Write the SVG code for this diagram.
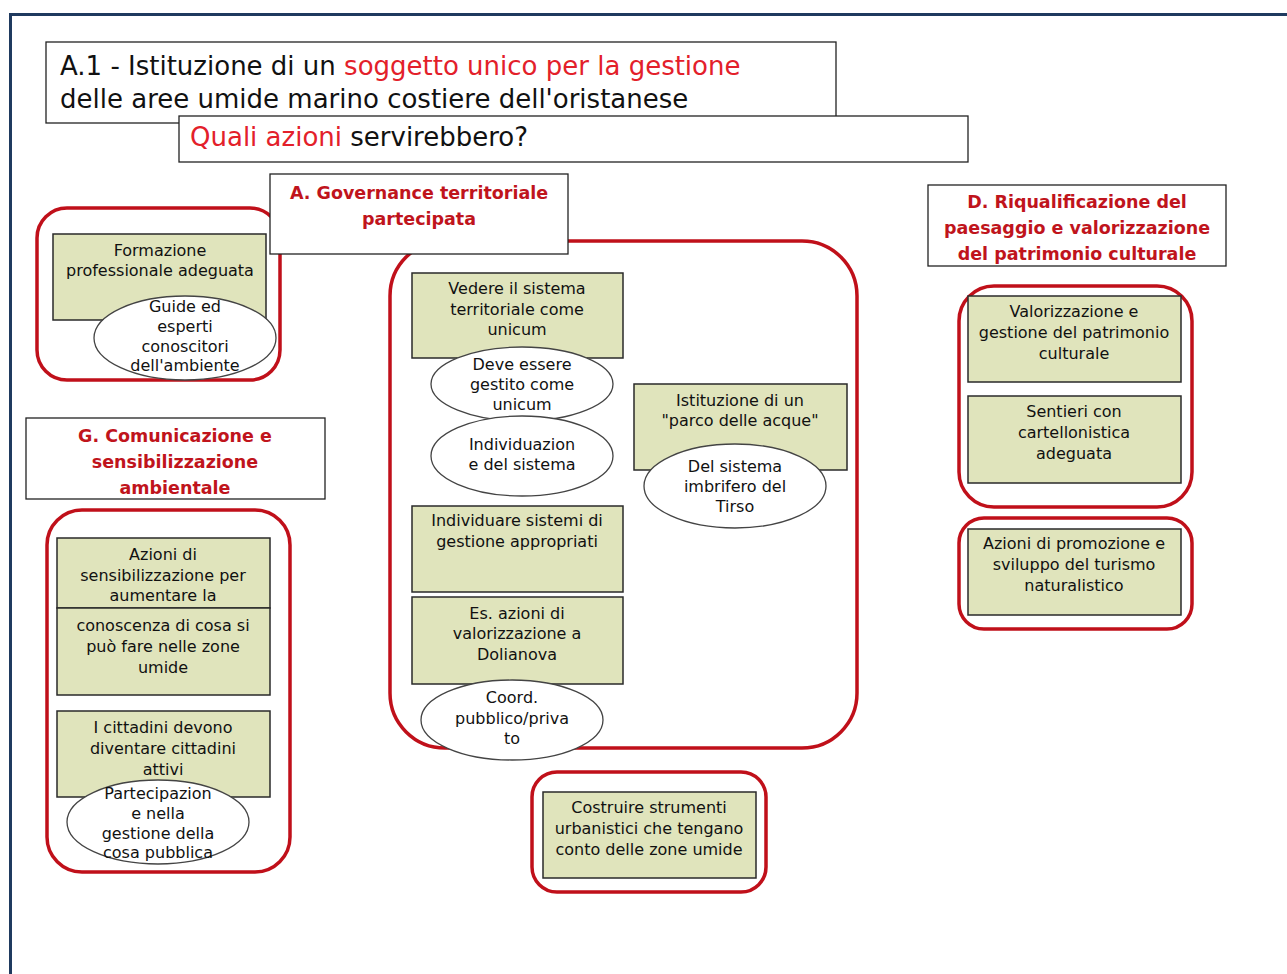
<svg xmlns="http://www.w3.org/2000/svg" width="1287" height="974" viewBox="0 0 1287 974">
<style>
.frame{fill:none;stroke:#1f3a5f;stroke-width:3}
.hbox{fill:#fff;stroke:#222;stroke-width:1.3}
.cont{fill:none;stroke:#c0101a;stroke-width:3.5}
.box{fill:#e0e4bc;stroke:#2a2a2a;stroke-width:1.5}
.ell{fill:#fff;stroke:#444;stroke-width:1.3}
.t{font-family:"DejaVu Sans","Liberation Sans",sans-serif;font-size:16px;fill:#111;text-anchor:middle}
.h{font-family:"DejaVu Sans","Liberation Sans",sans-serif;font-size:17.5px;font-weight:bold;fill:#c0141c;text-anchor:middle}
.title{font-family:"DejaVu Sans","Liberation Sans",sans-serif;font-size:26px;fill:#111}
.red{fill:#e3202a}
</style>
<rect x="0" y="0" width="1287" height="974" fill="#fff"/>
<path class="frame" d="M10.5 974 V14.5 H1287"/>

<g id="title">
<rect class="hbox" x="46" y="42" width="790" height="81"/>
<text class="title" x="60" y="75">A.1 - Istituzione di un <tspan class="red">soggetto unico per la gestione</tspan></text>
<text class="title" x="60" y="108">delle aree umide marino costiere dell'oristanese</text>
</g>
<g id="question">
<rect class="hbox" x="179" y="116" width="789" height="46"/>
<text class="title" x="190" y="146"><tspan class="red">Quali azioni</tspan> servirebbero?</text>
</g>

<g id="container-formazione">
<rect class="cont" x="37" y="208" width="243" height="172" rx="30"/>
</g>
<g id="node-formazione">
<rect class="box" x="53" y="234" width="213" height="86"/>
<text class="t" x="160" y="256">Formazione</text>
<text class="t" x="160" y="276">professionale adeguata</text>
</g>
<g id="node-guide">
<ellipse class="ell" cx="185" cy="338" rx="91" ry="42"/>
<text class="t" x="185" y="312">Guide ed</text>
<text class="t" x="185" y="332">esperti</text>
<text class="t" x="185" y="352">conoscitori</text>
<text class="t" x="185" y="371">dell'ambiente</text>
</g>

<g id="container-A">
<rect class="cont" x="390" y="241" width="467" height="507" rx="55"/>
</g>
<g id="header-A">
<rect class="hbox" x="270" y="174" width="298" height="80"/>
<text class="h" x="419" y="199">A. Governance territoriale</text>
<text class="h" x="419" y="225">partecipata</text>
</g>
<g id="node-vedere">
<rect class="box" x="412" y="273" width="211" height="85"/>
<text class="t" x="517" y="294">Vedere il sistema</text>
<text class="t" x="517" y="315">territoriale come</text>
<text class="t" x="517" y="335">unicum</text>
</g>
<g id="node-deve">
<ellipse class="ell" cx="522" cy="384" rx="91" ry="37"/>
<text class="t" x="522" y="370">Deve essere</text>
<text class="t" x="522" y="390">gestito come</text>
<text class="t" x="522" y="410">unicum</text>
</g>
<g id="node-individuazione">
<ellipse class="ell" cx="522" cy="456" rx="91" ry="40"/>
<text class="t" x="522" y="450">Individuazion</text>
<text class="t" x="522" y="470">e del sistema</text>
</g>
<g id="node-individuare">
<rect class="box" x="412" y="506" width="211" height="86"/>
<text class="t" x="517" y="526">Individuare sistemi di</text>
<text class="t" x="517" y="547">gestione appropriati</text>
</g>
<g id="node-es">
<rect class="box" x="412" y="597" width="211" height="87"/>
<text class="t" x="517" y="619">Es. azioni di</text>
<text class="t" x="517" y="639">valorizzazione a</text>
<text class="t" x="517" y="660">Dolianova</text>
</g>
<g id="node-coord">
<ellipse class="ell" cx="512" cy="720" rx="91" ry="40"/>
<text class="t" x="512" y="703">Coord.</text>
<text class="t" x="512" y="724">pubblico/priva</text>
<text class="t" x="512" y="744">to</text>
</g>
<g id="node-parco">
<rect class="box" x="634" y="384" width="213" height="86"/>
<text class="t" x="740" y="406">Istituzione di un</text>
<text class="t" x="740" y="426">"parco delle acque"</text>
</g>
<g id="node-imbrifero">
<ellipse class="ell" cx="735" cy="486" rx="91" ry="42"/>
<text class="t" x="735" y="472">Del sistema</text>
<text class="t" x="735" y="492">imbrifero del</text>
<text class="t" x="735" y="512">Tirso</text>
</g>

<g id="container-costruire">
<rect class="cont" x="532" y="772" width="234" height="120" rx="25"/>
</g>
<g id="node-costruire">
<rect class="box" x="543" y="792" width="213" height="86"/>
<text class="t" x="649" y="813">Costruire strumenti</text>
<text class="t" x="649" y="834">urbanistici che tengano</text>
<text class="t" x="649" y="855">conto delle zone umide</text>
</g>

<g id="header-G">
<rect class="hbox" x="26" y="418" width="299" height="81"/>
<text class="h" x="175" y="442">G. Comunicazione e</text>
<text class="h" x="175" y="468">sensibilizzazione</text>
<text class="h" x="175" y="494">ambientale</text>
</g>
<g id="container-G">
<rect class="cont" x="47" y="510" width="243" height="362" rx="35"/>
</g>
<g id="node-azioni-sens">
<rect class="box" x="57" y="538" width="213" height="70"/>
<text class="t" x="163" y="560">Azioni di</text>
<text class="t" x="163" y="581">sensibilizzazione per</text>
<text class="t" x="163" y="601">aumentare la</text>
</g>
<g id="node-conoscenza">
<rect class="box" x="57" y="608" width="213" height="87"/>
<text class="t" x="163" y="631">conoscenza di cosa si</text>
<text class="t" x="163" y="652">può fare nelle zone</text>
<text class="t" x="163" y="673">umide</text>
</g>
<g id="node-cittadini">
<rect class="box" x="57" y="711" width="213" height="86"/>
<text class="t" x="163" y="733">I cittadini devono</text>
<text class="t" x="163" y="754">diventare cittadini</text>
<text class="t" x="163" y="775">attivi</text>
</g>
<g id="node-partecipazione">
<ellipse class="ell" cx="158" cy="822" rx="91" ry="42"/>
<text class="t" x="158" y="799">Partecipazion</text>
<text class="t" x="158" y="819">e nella</text>
<text class="t" x="158" y="839">gestione della</text>
<text class="t" x="158" y="858">cosa pubblica</text>
</g>

<g id="header-D">
<rect class="hbox" x="928" y="185" width="298" height="81"/>
<text class="h" x="1077" y="208">D. Riqualificazione del</text>
<text class="h" x="1077" y="234">paesaggio e valorizzazione</text>
<text class="h" x="1077" y="260">del patrimonio culturale</text>
</g>
<g id="container-D1">
<rect class="cont" x="959" y="286" width="233" height="221" rx="35"/>
</g>
<g id="node-valorizzazione">
<rect class="box" x="968" y="296" width="213" height="86"/>
<text class="t" x="1074" y="317">Valorizzazione e</text>
<text class="t" x="1074" y="338">gestione del patrimonio</text>
<text class="t" x="1074" y="359">culturale</text>
</g>
<g id="node-sentieri">
<rect class="box" x="968" y="396" width="213" height="87"/>
<text class="t" x="1074" y="417">Sentieri con</text>
<text class="t" x="1074" y="438">cartellonistica</text>
<text class="t" x="1074" y="459">adeguata</text>
</g>
<g id="container-D2">
<rect class="cont" x="959" y="518" width="233" height="111" rx="25"/>
</g>
<g id="node-promozione">
<rect class="box" x="968" y="529" width="213" height="86"/>
<text class="t" x="1074" y="549">Azioni di promozione e</text>
<text class="t" x="1074" y="570">sviluppo del turismo</text>
<text class="t" x="1074" y="591">naturalistico</text>
</g>
<g id="connectors"></g>
</svg>
